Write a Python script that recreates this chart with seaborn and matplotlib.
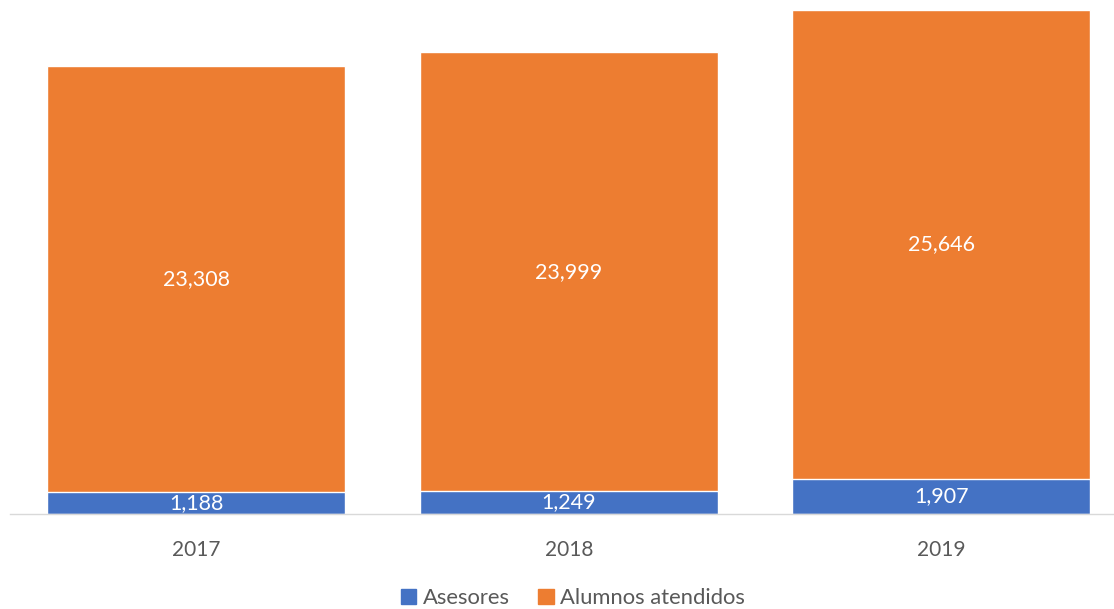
import matplotlib
matplotlib.use("Agg")
import matplotlib.pyplot as plt
from matplotlib.patches import Patch
import seaborn as sns
import pandas as pd

years = ["2017", "2018", "2019"]
asesores = [1188, 1249, 1907]
alumnos = [23308, 23999, 25646]

blue = "#4472C4"
orange = "#ED7D31"

sns.set_theme(style="white")
plt.rcParams['font.family'] = ['Lato', 'DejaVu Sans']

df = pd.DataFrame({'year': years, 'asesores': asesores, 'alumnos': alumnos})
df['total'] = df['asesores'] + df['alumnos']

fig = plt.figure(figsize=(11.14, 6.09), dpi=100)
ax = fig.add_axes([10 / 1114, 95 / 609, 1104 / 1114, 504 / 609])

# stacked: total in orange, asesores in blue on top of it
sns.barplot(data=df, x='year', y='total', color=orange, saturation=1, width=0.8, ax=ax)
sns.barplot(data=df, x='year', y='asesores', color=blue, saturation=1, width=0.8, ax=ax)

for i, row in df.iterrows():
    ax.text(i, row['asesores'] / 2, f"{row['asesores']:,}", ha='center', va='center',
            color='white', fontsize=15.5)
    ax.text(i, row['asesores'] + row['alumnos'] / 2, f"{row['alumnos']:,}", ha='center',
            va='center', color='white', fontsize=15.5)

ax.set_xlim(-0.5, 2.464)
ax.set_ylim(0, df['total'].max())
ax.set_xlabel('')
ax.set_ylabel('')
ax.set_yticks([])
for s in ['top', 'right', 'left']:
    ax.spines[s].set_visible(False)
ax.spines['bottom'].set_color('#d9d9d9')
ax.spines['bottom'].set_linewidth(1)
ax.tick_params(axis='x', length=0, pad=19, labelsize=15, labelcolor='#595959')

handles = [Patch(color=blue, label='Asesores'), Patch(color=orange, label='Alumnos atendidos')]
fig.legend(handles=handles, loc='center', bbox_to_anchor=(573 / 1114, 1 - 598 / 609), ncol=2,
           frameon=False, fontsize=15.8, handlelength=0.7, handleheight=0.7,
           handletextpad=0.3, columnspacing=1.3, labelcolor='#595959')

fig.savefig('out.png', dpi=100)
